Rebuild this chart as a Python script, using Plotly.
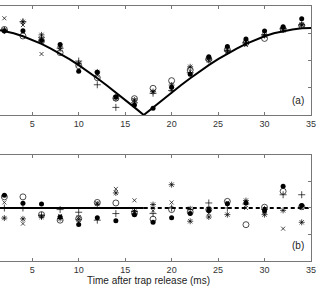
import plotly.graph_objects as go

# ---- data ----
t = [2, 4, 6, 8, 10, 12, 14, 16, 18, 20, 22, 24, 26, 28, 30, 32, 34]

# top panel: measured values (5 data sets)
top_fill = [3.08, 3.09, 2.73, 2.59, 1.61, 1.57, 0.67, 0.37, 0.25, 1.02, 1.50, 2.14, 2.51, 2.79, 3.08, 3.24, 3.53]
top_open = [3.14, 2.90, 2.72, 2.29, 1.81, 1.37, 0.62, 0.60, 0.98, 1.26, 1.65, 2.05, 2.40, 2.65, 2.81, 3.15, 3.28]
top_plus = [3.10, 3.42, 2.85, 2.45, 1.98, 1.11, 0.28, 0.45, 0.80, 0.90, 1.55, 2.02, 2.35, 2.65, 2.95, 3.18, 3.30]
top_x    = [3.55, 3.30, 2.24, 2.40, 1.85, 1.45, 0.65, 0.55, 0.85, 0.92, 1.60, 1.99, 2.32, 2.57, 2.90, 3.10, 3.30]
top_star = [3.12, 3.42, 2.94, 2.50, 1.90, 1.58, 0.60, 0.55, 0.86, 1.10, 1.77, 2.08, 2.38, 2.68, 2.92, 3.12, 3.32]

# fitted curve
fit_t = [1.53, 2, 3, 4, 5, 6, 7, 8, 9, 10, 11, 12, 13, 14, 15, 16, 17,
         18, 19, 20, 21, 22, 23, 24, 25, 26, 27, 28, 29, 30, 31, 32, 33, 34, 35]
fit_v = [3.11, 3.08, 3.00, 2.89, 2.76, 2.61, 2.44, 2.26, 2.05, 1.83, 1.60, 1.35, 1.09, 0.83, 0.55, 0.28, 0.0,
         0.28, 0.55, 0.83, 1.09, 1.35, 1.60, 1.83, 2.05, 2.26, 2.44, 2.61, 2.76, 2.89, 3.00, 3.08, 3.14, 3.18, 3.19]

# bottom panel: residuals
res_fill = [0.48, 0.18, 0.15, -0.34, -0.62, -0.37, -0.48, -0.25, -0.54, -0.37, -0.21, -0.09, 0.16, 0.19, -0.10, 0.82, 0.09]
res_open = [0.42, 0.42, -0.25, -0.46, -0.40, 0.21, 0.19, -0.20, -0.42, -0.06, -0.15, -0.06, 0.25, -0.63, 0.03, 0.63, 0.05]
res_plus = [0.00, 0.00, -0.28, -0.06, -0.16, -0.46, -0.21, -0.12, -0.21, 0.00, -0.05, 0.19, 0.00, 0.15, -0.05, 0.50, 0.50]
res_x    = [0.21, -0.59, -0.30, -0.30, -0.35, 0.18, 0.72, 0.29, -0.10, 0.21, -0.02, -0.20, 0.20, 0.00, -0.15, -0.78, 0.00]
res_star = [-0.38, -0.41, -0.34, -0.40, -0.43, 0.15, 0.57, -0.13, 0.13, 0.88, -0.50, -0.34, -0.25, 0.28, -0.25, -0.09, -0.54]

zero_solid_t = [1.53, 17]
zero_dash_t = [17, 35]
zero_v = [0, 0]

x_ticks = [5, 10, 15, 20, 25, 30, 35]
x_label = "Time after trap release (ms)"

# ---- figure ----
fig = go.Figure()

marker_styles = [
    ("circle", dict(size=5, color="black", line=dict(width=0))),
    ("circle-open", dict(size=6, color="black", line=dict(width=0.7))),
    ("cross-thin-open", dict(size=5, color="black", line=dict(width=0.7))),
    ("x-thin-open", dict(size=4, color="black", line=dict(width=0.7))),
    ("asterisk-open", dict(size=5, color="black", line=dict(width=0.7))),
]

top_sets = [top_fill, top_open, top_plus, top_x, top_star]
res_sets = [res_fill, res_open, res_plus, res_x, res_star]

for (sym, mk), ys in zip(marker_styles, top_sets):
    fig.add_trace(go.Scatter(x=t, y=ys, mode="markers", xaxis="x", yaxis="y",
                             marker=dict(symbol=sym, **mk), showlegend=False))
fig.add_trace(go.Scatter(x=fit_t, y=fit_v, mode="lines", xaxis="x", yaxis="y",
                         line=dict(color="black", width=2), showlegend=False))

fig.add_trace(go.Scatter(x=zero_solid_t, y=zero_v, mode="lines", xaxis="x2", yaxis="y2",
                         line=dict(color="black", width=1.8), showlegend=False))
fig.add_trace(go.Scatter(x=zero_dash_t, y=zero_v, mode="lines", xaxis="x2", yaxis="y2",
                         line=dict(color="black", width=1.8, dash="4px,3px"), showlegend=False))
for (sym, mk), ys in zip(marker_styles, res_sets):
    fig.add_trace(go.Scatter(x=t, y=ys, mode="markers", xaxis="x2", yaxis="y2",
                             marker=dict(symbol=sym, **mk), showlegend=False))

axis_col = "#777777"
tickfont = dict(family="Liberation Sans, Arial, sans-serif", size=9, color="#333333")

xcommon = dict(range=[1.53, 35], tickvals=x_ticks, ticks="inside", ticklen=3, tickcolor=axis_col,
               showline=True, linecolor=axis_col, linewidth=1, mirror="ticks",
               showgrid=False, zeroline=False, tickfont=tickfont)
fig.update_layout(
    width=324, height=286,
    margin=dict(l=0, r=13, t=6, b=25),
    paper_bgcolor="white", plot_bgcolor="white",
    xaxis=dict(domain=[0, 1], anchor="y", **xcommon),
    xaxis2=dict(domain=[0, 1], anchor="y2", **xcommon),
    yaxis=dict(domain=[0.5725, 1], anchor="x", range=[0, 4], tickvals=[1, 2, 3],
               side="right", ticks="inside", ticklen=3, tickcolor=axis_col,
               showticklabels=False, showline=True, linecolor=axis_col, linewidth=1,
               showgrid=False, zeroline=False),
    yaxis2=dict(domain=[0, 0.4157], anchor="x2", range=[-2, 2], tickvals=[-1, 0, 1],
                side="right", ticks="inside", ticklen=3, tickcolor=axis_col,
                showticklabels=False, showline=True, linecolor=axis_col, linewidth=1,
                showgrid=False, zeroline=False),
    annotations=[
        dict(text="(a)", x=33.6, y=0.55, xref="x", yref="y", showarrow=False,
             font=dict(family="Liberation Sans, Arial, sans-serif", size=10, color="#222222")),
        dict(text="(b)", x=33.6, y=-1.4, xref="x2", yref="y2", showarrow=False,
             font=dict(family="Liberation Sans, Arial, sans-serif", size=10, color="#222222")),
        dict(text=x_label, x=17.5, xref="x2", y=-0.077, yref="paper", yanchor="middle",
             showarrow=False,
             font=dict(family="Liberation Sans, Arial, sans-serif", size=10, color="#222222")),
    ],
)

fig.write_html("out.html", config={"displayModeBar": False},
               post_script="document.body.style.margin='0';document.body.style.padding='0';")
